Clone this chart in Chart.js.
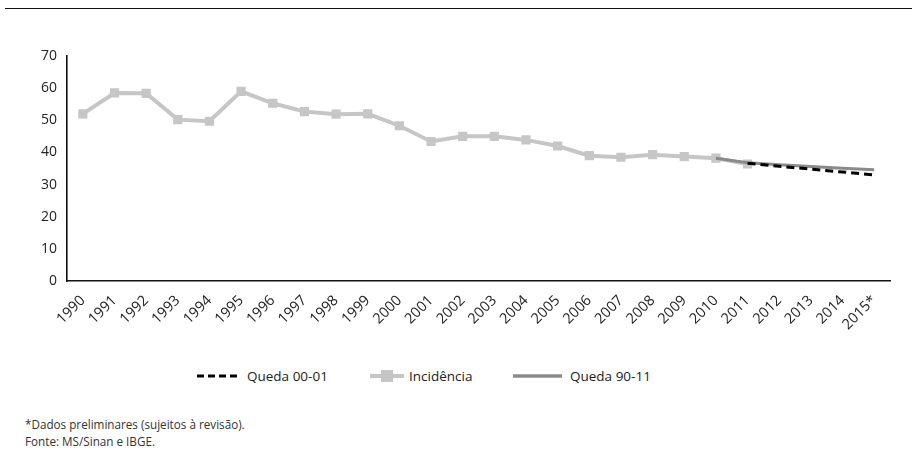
<!DOCTYPE html>
<html>
<head>
<meta charset="utf-8">
<script src="https://cdn.jsdelivr.net/npm/chart.js@4"></script>
<style>
  html, body { margin: 0; padding: 0; background: #fff; }
  #wrap { position: relative; width: 912px; height: 459px; overflow: hidden; font-family: "Open Sans", sans-serif; }
  #topline { position: absolute; left: 5px; right: 0; top: 8px; height: 0; border-top: 1.6px solid #111; }
  #cv { position: absolute; left: 0; top: 0; }
  #legend { position: absolute; top: 366px; left: 0; width: 912px; height: 20px; font-size: 13.5px; color: #222; }
  .li { position: absolute; top: 0; height: 20px; line-height: 20px; white-space: nowrap; }
  .li svg { position: absolute; top: 0; }
  .li span { position: absolute; top: 0; }
  #notes { position: absolute; left: 25px; top: 416px; font-size: 11.7px; line-height: 17px; color: #333; }
</style>
</head>
<body>
<div id="wrap">
  <div id="topline"></div>
  <canvas id="cv" width="912" height="350"></canvas>
  <div id="legend">
    <div class="li" style="left:197px;">
      <svg width="44" height="20"><line x1="0" y1="10" x2="44" y2="10" stroke="#000" stroke-width="3" stroke-dasharray="7,4"/></svg>
      <span style="left:50px;">Queda 00-01</span>
    </div>
    <div class="li" style="left:370px;">
      <svg width="34" height="20"><line x1="0" y1="10" x2="34" y2="10" stroke="#c6c6c6" stroke-width="4"/><rect x="11" y="4" width="12" height="12" fill="#c6c6c6"/></svg>
      <span style="left:39px;">Incidência</span>
    </div>
    <div class="li" style="left:513px;">
      <svg width="49" height="20"><line x1="0" y1="10" x2="49" y2="10" stroke="#8a8a8a" stroke-width="3.5"/></svg>
      <span style="left:57px;">Queda 90-11</span>
    </div>
  </div>
  <div id="notes">*Dados preliminares (sujeitos à revisão).<br>Fonte: MS/Sinan e IBGE.</div>
</div>
<script>
const years = ['1990','1991','1992','1993','1994','1995','1996','1997','1998','1999','2000','2001','2002','2003','2004','2005','2006','2007','2008','2009','2010','2011','2012','2013','2014','2015*'];
const incidencia = [52.0,58.5,58.4,50.2,49.7,59.0,55.3,52.7,51.9,52.0,48.3,43.4,45.0,45.0,43.9,42.0,39.0,38.5,39.3,38.7,38.2,36.4,null,null,null,null];
const queda9011 = [null,null,null,null,null,null,null,null,null,null,null,null,null,null,null,null,null,null,null,null,38.2,36.8,36.2,35.6,35.1,34.6];
const queda0001 = [null,null,null,null,null,null,null,null,null,null,null,null,null,null,null,null,null,null,null,null,null,36.6,35.7,34.8,33.9,33.0];
const yTicks = [0,10,20,30,40,50,60,70];

new Chart(document.getElementById('cv'), {
  type: 'line',
  data: {
    labels: years,
    datasets: [
      { label: 'Queda 00-01', data: queda0001, borderColor: '#000', borderWidth: 3, borderDash: [8,5], pointRadius: 0, fill: false, order: 0, tension: 0 },
      { label: 'Incidência', data: incidencia, borderColor: '#c6c6c6', backgroundColor: '#c6c6c6', borderWidth: 4, pointStyle: 'rect', pointRadius: 6.5, pointBorderWidth: 0, fill: false, order: 2, tension: 0 },
      { label: 'Queda 90-11', data: queda9011, borderColor: '#8a8a8a', borderWidth: 3, pointRadius: 0, fill: false, order: 1, tension: 0 }
    ]
  },
  options: {
    responsive: false,
    animation: false,
    spanGaps: false,
    layout: { padding: { left: 0, right: 22, top: 56, bottom: 0 } },
    plugins: { legend: { display: false }, tooltip: { enabled: false } },
    scales: {
      x: {
        offset: true,
        grid: { display: false, drawTicks: false },
        border: { display: true, color: '#111', width: 1.6 },
        ticks: { color: '#222', font: { family: 'Open Sans', size: 14.5 }, maxRotation: 45, minRotation: 45, autoSkip: false, padding: 11 },
        afterFit: s => { s.height = 69; }
      },
      y: {
        min: 0, max: 70,
        afterBuildTicks: s => { s.ticks = yTicks.map(v => ({ value: v })); },
        grid: { display: false, drawTicks: false },
        border: { display: true, color: '#111', width: 1.6 },
        ticks: { color: '#222', font: { family: 'Open Sans', size: 14 }, padding: 10 },
        afterFit: s => { s.width = 67; }
      }
    }
  }
});
</script>
</body>
</html>
